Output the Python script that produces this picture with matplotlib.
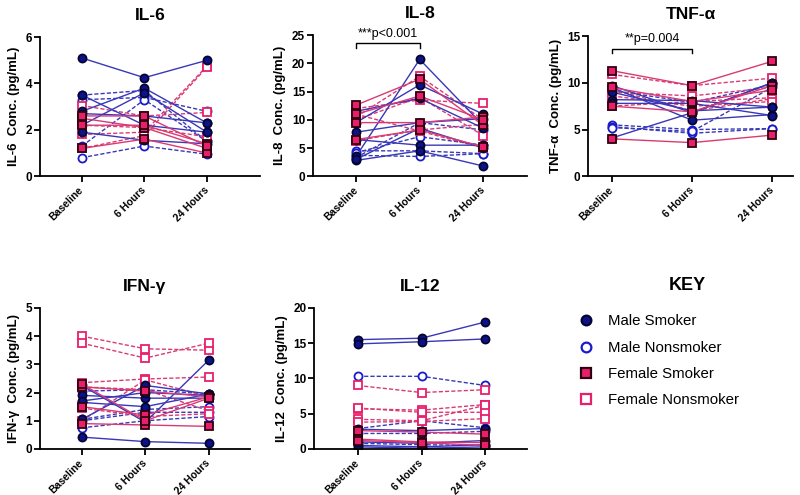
import matplotlib.pyplot as plt
from matplotlib.lines import Line2D

plt.rcParams['font.family'] = ['Liberation Sans', 'DejaVu Sans']

times = ['Baseline', '6 Hours', '24 Hours']

# each row: one subject, values at Baseline, 6 Hours, 24 Hours
il6_ms = [[5.1, 4.25, 5.0], [3.5, 2.2, 1.9], [2.8, 3.8, 2.3], [2.2, 3.6, 1.9],
          [2.7, 2.6, 2.3], [1.9, 1.55, 1.4]]
il6_mn = [[3.3, 3.4, 2.8], [0.8, 1.3, 0.95], [1.3, 3.3, 1.5], [3.5, 3.7, 1.5]]
il6_fs = [[2.5, 2.1, 1.2], [1.2, 1.6, 1.0], [2.2, 2.2, 1.4], [2.6, 2.6, 1.3]]
il6_fn = [[3.05, 2.6, 2.75], [1.8, 1.9, 4.75], [2.2, 2.1, 1.7], [1.2, 1.75, 4.7]]

il8_ms = [[3.5, 20.7, 9.0], [9.5, 16.2, 11.0], [11.5, 13.8, 8.5], [7.8, 9.5, 10.2],
          [6.5, 5.5, 5.5], [2.8, 4.5, 1.8], [3.0, 8.5, 5.0]]
il8_mn = [[4.5, 4.5, 4.0], [3.7, 3.5, 4.0], [4.2, 7.0, 5.5], [3.3, 9.5, 8.2]]
il8_fs = [[12.6, 17.2, 9.0], [9.5, 9.5, 10.5], [6.5, 8.2, 5.2], [11.0, 14.2, 10.0]]
il8_fn = [[10.5, 17.7, 10.0], [12.0, 13.5, 12.9], [10.0, 14.0, 7.2], [6.3, 8.2, 9.2],
          [11.0, 8.0, 5.0]]

tnf_ms = [[9.7, 6.8, 10.0], [8.2, 8.1, 7.4], [4.1, 6.8, 10.0], [9.5, 6.0, 6.6],
          [7.8, 7.8, 6.5], [9.0, 7.0, 7.4]]
tnf_mn = [[5.5, 5.0, 5.1], [5.3, 4.6, 5.1], [5.2, 4.8, 9.5], [9.2, 7.9, 9.8]]
tnf_fs = [[11.3, 9.7, 12.3], [4.0, 3.6, 4.4], [7.5, 6.9, 9.7], [9.5, 8.0, 9.2]]
tnf_fn = [[10.9, 9.7, 10.5], [9.0, 8.6, 9.5], [7.5, 8.0, 8.4], [9.3, 7.0, 8.3],
          [8.6, 7.5, 8.0]]

ifn_ms = [[0.42, 0.26, 0.2], [1.05, 2.25, 1.95], [2.25, 0.95, 3.15], [1.9, 1.8, 1.8],
          [1.65, 1.5, 1.95], [1.7, 2.0, 1.9]]
ifn_mn = [[0.75, 1.0, 1.15], [1.05, 1.4, 1.5], [2.05, 2.1, 1.95], [1.0, 1.3, 1.3]]
ifn_fs = [[2.2, 2.05, 1.85], [0.9, 0.85, 0.8], [1.5, 1.2, 1.85], [2.3, 1.0, 1.8]]
ifn_fn = [[4.0, 3.55, 3.5], [3.75, 3.22, 3.75], [2.35, 2.48, 2.55], [1.0, 2.45, 1.85],
          [2.2, 2.1, 1.35], [1.45, 1.15, 1.25]]

il12_ms = [[15.5, 15.7, 18.0], [14.9, 15.2, 15.6], [2.8, 2.6, 2.9], [0.3, 0.1, 0.3],
           [0.5, 0.3, 0.6], [1.0, 0.8, 1.2]]
il12_mn = [[10.3, 10.3, 9.0], [2.9, 4.0, 3.0], [2.2, 2.2, 2.5], [0.8, 0.6, 0.5]]
il12_fs = [[2.6, 2.4, 2.1], [1.4, 1.0, 0.9], [1.2, 0.9, 0.5]]
il12_fn = [[9.0, 8.0, 8.4], [5.7, 5.5, 6.3], [5.8, 5.2, 5.2], [4.2, 4.0, 6.2],
           [3.8, 3.9, 4.3]]

blue_line = '#3838b8'
navy = '#0c128a'
blue_edge = '#1a1acc'
pink_line = '#da3a74'
pink = '#e8206c'

styles = {
    'ms': dict(color=blue_line, ls='-', marker='o', mfc=navy, mec='#050530'),
    'mn': dict(color=blue_line, ls=(0, (3, 1.5)), marker='o', mfc='white', mec=blue_edge),
    'fs': dict(color=pink_line, ls='-', marker='s', mfc=pink, mec='#300010'),
    'fn': dict(color=pink_line, ls=(0, (3, 1.5)), marker='s', mfc='white', mec=pink),
}

fig = plt.figure(figsize=(8, 4.95), dpi=100)


def panel(rect, title, ylabel, groups, ymax, ystep, xlim):
    ax = fig.add_axes(rect)
    x = list(range(len(times)))
    for key, rows in groups:
        st = styles[key]
        for r in rows:
            ax.plot(x, r, color=st['color'], ls=st['ls'], lw=1.0,
                    marker=st['marker'], ms=5.8, mfc=st['mfc'], mec=st['mec'], mew=1.3)
    ax.set_xlim(*xlim)
    ax.set_ylim(0, ymax)
    ax.set_yticks(range(0, ymax + 1, ystep))
    ax.set_xticks(x)
    ax.set_xticklabels(times, rotation=45, ha='right', va='center',
                       rotation_mode='anchor', fontsize=7.5, fontweight='bold')
    for lab in ax.get_yticklabels():
        lab.set_fontweight('bold')
        lab.set_fontsize(8.5)
    ax.set_ylabel(ylabel, fontsize=9.5, fontweight='bold', labelpad=4)
    ax.set_title(title, fontsize=12.5, fontweight='bold', pad=12)
    for s in ['top', 'right']:
        ax.spines[s].set_visible(False)
    for s in ['left', 'bottom']:
        ax.spines[s].set_linewidth(1.3)
    ax.tick_params(width=1.3, length=4)
    ax.tick_params(axis='x', pad=5)
    ax.tick_params(axis='y', pad=1.5)
    return ax


def bracket(ax, y, tick, label, ty):
    ax.plot([0, 0, 1, 1], [y - tick, y, y, y - tick], color='black', lw=1.0, clip_on=False)
    ax.text(0.5, ty, label, ha='center', va='bottom', fontsize=9, clip_on=False)


ax1 = panel([0.05, 0.644, 0.275, 0.281], 'IL-6', 'IL-6  Conc. (pg/mL)',
            [('mn', il6_mn), ('fn', il6_fn), ('ms', il6_ms), ('fs', il6_fs)],
            6, 2, (-0.67, 2.85))
ax2 = panel([0.391, 0.644, 0.268, 0.285], 'IL-8', 'IL-8  Conc. (pg/mL)',
            [('mn', il8_mn), ('fn', il8_fn), ('ms', il8_ms), ('fs', il8_fs)],
            25, 5, (-0.68, 2.69))
bracket(ax2, 23.6, 0.8, '***p<0.001', 24.1)
ax3 = panel([0.735, 0.644, 0.256, 0.283], 'TNF-α', 'TNF-α  Conc. (pg/mL)',
            [('mn', tnf_mn), ('fn', tnf_fn), ('ms', tnf_ms), ('fs', tnf_fs)],
            15, 5, (-0.3, 2.26))
bracket(ax3, 13.6, 0.4, '**p=0.004', 14.1)
ax4 = panel([0.05, 0.093, 0.2625, 0.285], 'IFN-γ', 'IFN-γ  Conc. (pg/mL)',
            [('mn', ifn_mn), ('fn', ifn_fn), ('ms', ifn_ms), ('fs', ifn_fs)],
            5, 1, (-0.66, 2.65))
ax5 = panel([0.3925, 0.093, 0.2665, 0.285], 'IL-12', 'IL-12  Conc. (pg/mL)',
            [('mn', il12_mn), ('fn', il12_fn), ('ms', il12_ms), ('fs', il12_fs)],
            20, 5, (-0.69, 2.66))

handles = []
names = ['Male Smoker', 'Male Nonsmoker', 'Female Smoker', 'Female Nonsmoker']
for key, name in zip(['ms', 'mn', 'fs', 'fn'], names):
    st = styles[key]
    handles.append(Line2D([], [], ls='none', marker=st['marker'], ms=7,
                          mfc=st['mfc'], mec=st['mec'], mew=1.6, label=name))
fig.text(0.859, 1 - 286 / 495, 'KEY', ha='center', va='center',
         fontsize=13, fontweight='bold')
fig.legend(handles=handles, loc='upper left', bbox_to_anchor=(0.7, 0.392),
           frameon=False, fontsize=10.8, handletextpad=0.7, labelspacing=0.82,
           handlelength=1.6)

fig.savefig('out.png', dpi=100)
